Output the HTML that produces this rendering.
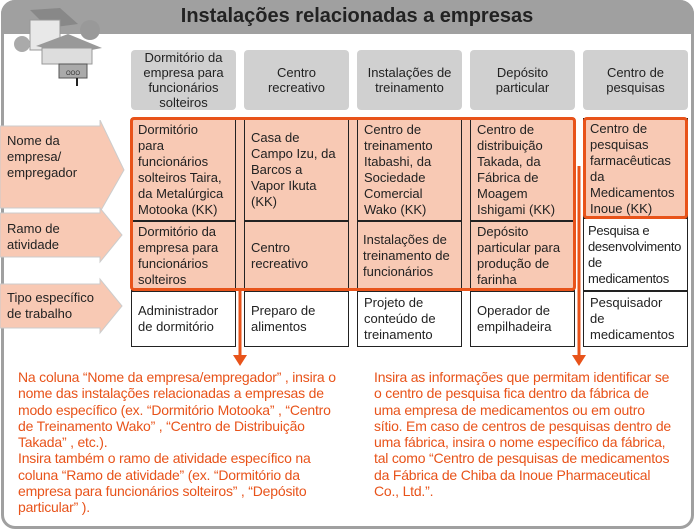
<!DOCTYPE html>
<html><head><meta charset="utf-8"><style>
*{margin:0;padding:0;box-sizing:border-box}
body{width:694px;height:530px;background:#fff;position:relative;overflow:hidden;font-family:"Liberation Sans",sans-serif}
.a{position:absolute}
.frame{left:1px;top:0;width:693px;height:529px;border:3px solid #a0a0a0;border-radius:14px;background:#fff}
.band{left:1px;top:0;width:693px;height:34px;background:#a0a0a0;border-radius:14px 14px 0 0}
.title{left:0;width:694px;top:5px;text-align:center;font-weight:bold;font-size:20px;color:#222;padding-left:20px}
.hd{background:#d0d0d0;border-radius:4px;font-size:13px;color:#222;text-align:center;display:flex;align-items:center;justify-content:center;line-height:15px;top:50px;height:60px;width:105px}
.c{border:1px solid #222;font-size:13px;color:#222;line-height:16px;padding:3px 6px;display:flex;align-items:center;width:105px}
.p{background:#f8c9b4}
.ob{border:3px solid #e8531a;border-radius:4px}
.lbl{font-size:13px;color:#222;line-height:16px}
.tx{font-size:14px;color:#e8531a;line-height:16.3px;letter-spacing:-0.2px;white-space:nowrap}
</style></head><body>
<div class="a frame"></div>
<div class="a band"></div>
<div class="a title">Instalações relacionadas a empresas</div>
<svg class="a" style="left:8px;top:2px" width="100" height="90" viewBox="0 0 100 90">
<polygon points="22,8 52,6 70,22 40,26" fill="#888"/>
<rect x="22" y="18" width="30" height="30" fill="#e8e8e8" stroke="#999"/>
<circle cx="82" cy="28" r="10" fill="#999"/><circle cx="14" cy="42" r="8" fill="#aaa"/>
<polygon points="28,44 60,32 94,46 62,52" fill="#999"/>
<rect x="34" y="46" width="50" height="16" fill="#ddd" stroke="#999"/>
<rect x="51" y="62" width="28" height="14" fill="#aaa" stroke="#555"/>
<text x="65" y="73" font-size="6" text-anchor="middle" fill="#333">OOO</text>
<rect x="68" y="76" width="2" height="8" fill="#222"/>
</svg>
<div class="a hd" style="left:131px">Dormitório da<br>empresa para<br>funcionários<br>solteiros</div>
<div class="a hd" style="left:244px">Centro<br>recreativo</div>
<div class="a hd" style="left:357px">Instalações de<br>treinamento</div>
<div class="a hd" style="left:470px">Depósito<br>particular</div>
<div class="a hd" style="left:583px">Centro de<br>pesquisas</div>
<svg class="a" style="left:0;top:120px" width="128" height="220">
<polygon points="0,6 100,6 100,0 124,50 100,92 100,88 0,88" fill="#f8c9b4" stroke="#ccc"/>
<polygon points="0,93 100,93 100,88 122,115 100,142 100,137 0,137" fill="#f8c9b4" stroke="#ccc"/>
<polygon points="0,164 100,164 100,159 122,186 100,213 100,208 0,208" fill="#f8c9b4" stroke="#ccc"/>
</svg>
<div class="a lbl" style="left:7px;top:133px">Nome da<br>empresa/<br>empregador</div>
<div class="a lbl" style="left:7px;top:221px">Ramo de<br>atividade</div>
<div class="a lbl" style="left:7px;top:290px">Tipo específico<br>de trabalho</div>
<div class="a p" style="left:130px;top:117px;width:446px;height:174px;border-radius:4px"></div>
<div class="a p" style="left:583px;top:117px;width:105px;height:102px;border-radius:4px"></div>
<div class="a c" style="left:131px;top:118px;height:103px;align-items:flex-start">Dormitório<br>para<br>funcionários<br>solteiros Taira,<br>da Metalúrgica<br>Motooka (KK)</div>
<div class="a c" style="left:244px;top:118px;height:103px">Casa de<br>Campo Izu, da<br>Barcos a<br>Vapor Ikuta<br>(KK)</div>
<div class="a c" style="left:357px;top:118px;height:103px">Centro de<br>treinamento<br>Itabashi, da<br>Sociedade<br>Comercial<br>Wako (KK)</div>
<div class="a c" style="left:470px;top:118px;height:103px">Centro de<br>distribuição<br>Takada, da<br>Fábrica de<br>Moagem<br>Ishigami (KK)</div>
<div class="a c" style="left:583px;top:118px;height:100px;align-items:flex-start;padding-top:2px">Centro de<br>pesquisas<br>farmacêuticas<br>da<br>Medicamentos<br>Inoue (KK)</div>
<div class="a c" style="left:131px;top:221px;height:70px">Dormitório da<br>empresa para<br>funcionários<br>solteiros</div>
<div class="a c" style="left:244px;top:221px;height:70px">Centro<br>recreativo</div>
<div class="a c" style="left:357px;top:221px;height:70px;padding-left:5px">Instalações de<br>treinamento de<br>funcionários</div>
<div class="a c" style="left:470px;top:221px;height:70px">Depósito<br>particular para<br>produção de<br>farinha</div>
<div class="a c" style="left:583px;top:218px;height:73px;padding-left:4px;letter-spacing:-0.3px">Pesquisa e<br>desenvolvimento<br>de<br>medicamentos</div>
<div class="a c" style="left:131px;top:291px;height:56px">Administrador<br>de dormitório</div>
<div class="a c" style="left:244px;top:291px;height:56px">Preparo de<br>alimentos</div>
<div class="a c" style="left:357px;top:291px;height:56px">Projeto de<br>conteúdo de<br>treinamento</div>
<div class="a c" style="left:470px;top:291px;height:56px">Operador de<br>empilhadeira</div>
<div class="a c" style="left:583px;top:291px;height:56px">Pesquisador<br>de<br>medicamentos</div>
<div class="a ob" style="left:130px;top:117px;width:446px;height:174px"></div>
<div class="a ob" style="left:583px;top:117px;width:105px;height:102px"></div>
<svg class="a" style="left:0;top:0" width="694" height="530">
<line x1="240" y1="291" x2="240" y2="356" stroke="#e8531a" stroke-width="3"/>
<polygon points="233,355 247,355 240,366" fill="#e8531a"/>
<line x1="579" y1="166" x2="579" y2="356" stroke="#e8531a" stroke-width="3"/>
<polygon points="572,355 586,355 579,366" fill="#e8531a"/>
</svg>
<div class="a tx" style="left:18px;top:369px">Na coluna “Nome da empresa/empregador” , insira o<br>nome das instalações relacionadas a empresas de<br>modo específico (ex. “Dormitório Motooka” , “Centro<br>de Treinamento Wako” , “Centro de Distribuição<br>Takada” , etc.).<br>Insira também o ramo de atividade específico na<br>coluna “Ramo de atividade” (ex. “Dormitório da<br>empresa para funcionários solteiros” , “Depósito<br>particular” ).</div>
<div class="a tx" style="left:374px;top:369px">Insira as informações que permitam identificar se<br>o centro de pesquisa fica dentro da fábrica de<br>uma empresa de medicamentos ou em outro<br>sítio. Em caso de centros de pesquisas dentro de<br>uma fábrica, insira o nome específico da fábrica,<br>tal como “Centro de pesquisas de medicamentos<br>da Fábrica de Chiba da Inoue Pharmaceutical<br>Co., Ltd.”.</div>
</body></html>
